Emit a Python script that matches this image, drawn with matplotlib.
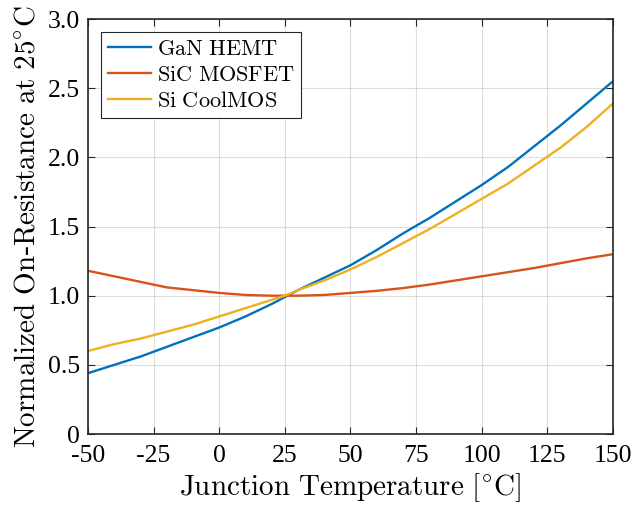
import matplotlib
matplotlib.use("Agg")
import matplotlib.pyplot as plt
import numpy as np

plt.rcParams['font.family'] = ['Liberation Serif', 'DejaVu Serif']
plt.rcParams['mathtext.fontset'] = 'cm'

temp = [-50, -40, -30, -20, -10, 0, 10, 20, 25, 30, 40, 50, 60, 70, 80, 90, 100, 110, 120, 130, 140, 150]
gan = [0.44, 0.50, 0.56, 0.63, 0.70, 0.77, 0.85, 0.94, 0.99, 1.04, 1.13, 1.22, 1.33, 1.45, 1.56, 1.68, 1.80, 1.93, 2.08, 2.23, 2.39, 2.55]
sic = [1.18, 1.14, 1.10, 1.06, 1.04, 1.02, 1.005, 1.0, 1.0, 1.0, 1.005, 1.02, 1.035, 1.055, 1.08, 1.11, 1.14, 1.17, 1.20, 1.235, 1.27, 1.30]
si = [0.60, 0.65, 0.69, 0.74, 0.79, 0.85, 0.91, 0.97, 1.00, 1.04, 1.11, 1.19, 1.28, 1.38, 1.48, 1.59, 1.70, 1.81, 1.94, 2.07, 2.22, 2.39]

xticks = [-50, -25, 0, 25, 50, 75, 100, 125, 150]
xticklabels = ['-50', '-25', '0', '25', '50', '75', '100', '125', '150']
yticks = [0, 0.5, 1.0, 1.5, 2.0, 2.5, 3.0]
yticklabels = ['0', '0.5', '1.0', '1.5', '2.0', '2.5', '3.0']

fig = plt.figure(figsize=(6.34, 5.14), dpi=100)
ax = fig.add_axes([0.1388, 0.1556, 0.828, 0.8074])

ax.plot(temp, gan, color='#0072BD', lw=1.7, label=r'$\mathrm{GaN\ HEMT}$')
ax.plot(temp, sic, color='#D95319', lw=1.7, label=r'$\mathrm{SiC\ MOSFET}$')
ax.plot(temp, si, color='#EDB120', lw=1.7, label=r'$\mathrm{Si\ CoolMOS}$')

ax.set_xlim(-50, 150)
ax.set_ylim(0, 3)
ax.set_xticks(xticks)
ax.set_xticklabels(xticklabels)
ax.set_yticks(yticks)
ax.set_yticklabels(yticklabels)
ax.tick_params(direction='in', top=True, right=True, labelsize=18.5, width=0.8, length=5, color='#262626')
ax.tick_params(axis='x', pad=8)
ax.tick_params(axis='y', pad=6)
ax.grid(True, color='#262626', alpha=0.15, lw=0.8)
for s in ax.spines.values():
    s.set_color('#262626')
    s.set_linewidth(1.2)

ax.set_xlabel(r'$\mathrm{Junction\ Temperature\ [^{\circ}C]}$', fontsize=21, labelpad=3)
ax.set_ylabel(r'$\mathrm{Normalized\ On}$-$\mathrm{Resistance\ at\ 25^{\circ}C}$', fontsize=21, labelpad=5)

leg = ax.legend(loc='upper left', fontsize=16, fancybox=False, framealpha=1,
                edgecolor='#262626', borderaxespad=0.6, handlelength=1.95,
                handletextpad=0.25, labelspacing=0.25, borderpad=0.3)
leg.get_frame().set_linewidth(0.8)

fig.savefig('out.png', dpi=100)
